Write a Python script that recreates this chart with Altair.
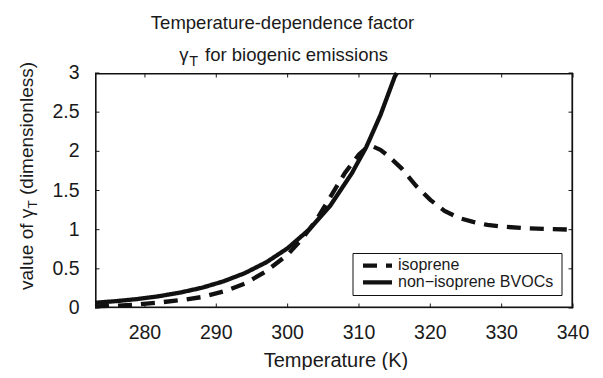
import altair as alt
import pandas as pd

# ---- data ----
series_names = ["isoprene", "non−isoprene BVOCs"]
series_dash = [[14, 9], [1, 0]]

T_iso = [273, 276, 279, 282, 285, 288, 291, 294, 297, 300, 302, 304, 306, 308, 310,
         311, 312, 313, 314, 316, 318, 320, 322, 324, 326, 328, 330, 333, 336, 340]
v_iso = [0.02, 0.03, 0.045, 0.07, 0.10, 0.14, 0.21, 0.31, 0.47, 0.68, 0.88, 1.12, 1.42, 1.72, 1.96,
         2.04, 2.06, 2.02, 1.95, 1.78, 1.56, 1.38, 1.24, 1.15, 1.10, 1.06, 1.04, 1.02, 1.01, 1.00]

T_non = [273, 276, 279, 282, 285, 288, 291, 294, 297, 300, 303, 306, 309, 311, 313, 315, 315.3]
v_non = [0.067, 0.088, 0.115, 0.151, 0.198, 0.259, 0.340, 0.445, 0.583, 0.763, 1.0, 1.31, 1.72,
         2.05, 2.46, 2.95, 3.0]

x_ticks = [280, 290, 300, 310, 320, 330, 340]
y_ticks = [0, 0.5, 1, 1.5, 2, 2.5, 3]

title_line1 = "Temperature-dependence factor"
title_line2 = ["γ", "T", "for biogenic emissions"]
y_title = ["value of γ", "T", "(dimensionless)"]
x_title = "Temperature (K)"

df = pd.concat([
    pd.DataFrame({"T": T_iso, "v": v_iso, "series": series_names[0]}),
    pd.DataFrame({"T": T_non, "v": v_non, "series": series_names[1]}),
])
xt = pd.DataFrame({"t": x_ticks})
yt = pd.DataFrame({"t": y_ticks})

FONT = "Liberation Sans"
INK = "#1a1a1a"
W, H = 478, 235
TK = 4.5
LAB = 19.5

xscale = alt.Scale(domain=[273, 340], nice=False, zero=False)
yscale = alt.Scale(domain=[0, 3], nice=False, zero=True)

lines = alt.Chart(df).mark_line(strokeWidth=4.3, color="#111").encode(
    x=alt.X("T:Q", scale=xscale, axis=None),
    y=alt.Y("v:Q", scale=yscale, axis=None),
    strokeDash=alt.StrokeDash("series:N", scale=alt.Scale(domain=series_names, range=series_dash),
                              legend=None),
)

one = pd.DataFrame({"a": [0]})

# plot frame: four edges drawn as rules
EW = 1.6
edges = [
    alt.Chart(one).mark_rule(color="#111", strokeWidth=EW).encode(
        x=alt.value(0), x2=alt.value(W), y=alt.value(EW / 2)),
    alt.Chart(one).mark_rule(color="#111", strokeWidth=EW).encode(
        x=alt.value(0), x2=alt.value(W), y=alt.value(H - EW / 2)),
    alt.Chart(one).mark_rule(color="#111", strokeWidth=EW).encode(
        y=alt.value(0), y2=alt.value(H), x=alt.value(EW / 2)),
    alt.Chart(one).mark_rule(color="#111", strokeWidth=EW).encode(
        y=alt.value(0), y2=alt.value(H), x=alt.value(W - EW / 2)),
]

# inward ticks on all four edges, placed by the shared scales
tick = dict(color=INK, strokeWidth=1)
ticks = [
    alt.Chart(xt).mark_rule(**tick).encode(
        x=alt.X("t:Q", scale=xscale, axis=None), y=alt.value(0), y2=alt.value(TK)),
    alt.Chart(xt).mark_rule(**tick).encode(
        x=alt.X("t:Q", scale=xscale, axis=None), y=alt.value(H - TK), y2=alt.value(H)),
    alt.Chart(yt).mark_rule(**tick).encode(
        y=alt.Y("t:Q", scale=yscale, axis=None), x=alt.value(0), x2=alt.value(TK)),
    alt.Chart(yt).mark_rule(**tick).encode(
        y=alt.Y("t:Q", scale=yscale, axis=None), x=alt.value(W - TK), x2=alt.value(W)),
]

# tick labels
tick_labels = [
    alt.Chart(xt).mark_text(align="center", baseline="alphabetic", fontSize=LAB, font=FONT,
                            color=INK).encode(
        x=alt.X("t:Q", scale=xscale, axis=None), y=alt.value(H + 30.5),
        text=alt.Text("t:Q", format="d")),
    alt.Chart(yt).mark_text(align="right", baseline="middle", fontSize=LAB, font=FONT,
                            color=INK).encode(
        y=alt.Y("t:Q", scale=yscale, axis=None), x=alt.value(-15.5),
        text=alt.Text("t:Q", format="~g")),
]


def txt(s, x, y, size, align="left", angle=0):
    kw = dict(text=s, align=align, baseline="alphabetic", fontSize=size, font=FONT, color=INK)
    if angle:
        kw["angle"] = angle
    return alt.Chart(one).mark_text(**kw).encode(x=alt.value(x), y=alt.value(y))


texts = [
    txt(title_line1, 187.5, -44, 18.5, align="center"),
    txt(title_line2[0], 84.3, -12, 18.5),
    txt(title_line2[1], 94.3, -7.5, 14.5),
    txt(title_line2[2], 110, -12, 18.5),
    txt(y_title[0], -62, 217, 19, angle=270),
    txt(y_title[1], -58, 135.5, 13.5, angle=270),
    txt(y_title[2], -62, 122, 19, angle=270),
    txt(x_title, 241, 294, 20, align="center"),
]

# legend box (inside the plot, lower right)
LX0, LX1, LY0, LY1 = 258, 467, 180.5, 222.5
legend_box = alt.Chart(one).mark_rect(fill="white", stroke="#111", strokeWidth=1).encode(
    x=alt.value(LX0), x2=alt.value(LX1), y=alt.value(LY0), y2=alt.value(LY1))
row_y = [192.7, 209.3]
legend_parts = [legend_box]
for name, dash, ry in zip(series_names, series_dash, row_y):
    legend_parts.append(
        alt.Chart(one).mark_rule(strokeWidth=4.3, color="#111", strokeDash=dash).encode(
            x=alt.value(LX0 + 10), x2=alt.value(LX0 + 39), y=alt.value(ry)))
    legend_parts.append(txt(name, LX0 + 45, ry + 4.5, 16))

chart = alt.layer(lines, *ticks, *tick_labels, *legend_parts, *texts, *edges).properties(
    width=W, height=H,
    autosize=alt.AutoSizeParams(type="none"),
    padding={"left": 87, "top": 65, "right": 22, "bottom": 62},
).configure_view(stroke=None).configure(background="white")

chart.save("out.html", embed_options={"renderer": "svg", "actions": False})
